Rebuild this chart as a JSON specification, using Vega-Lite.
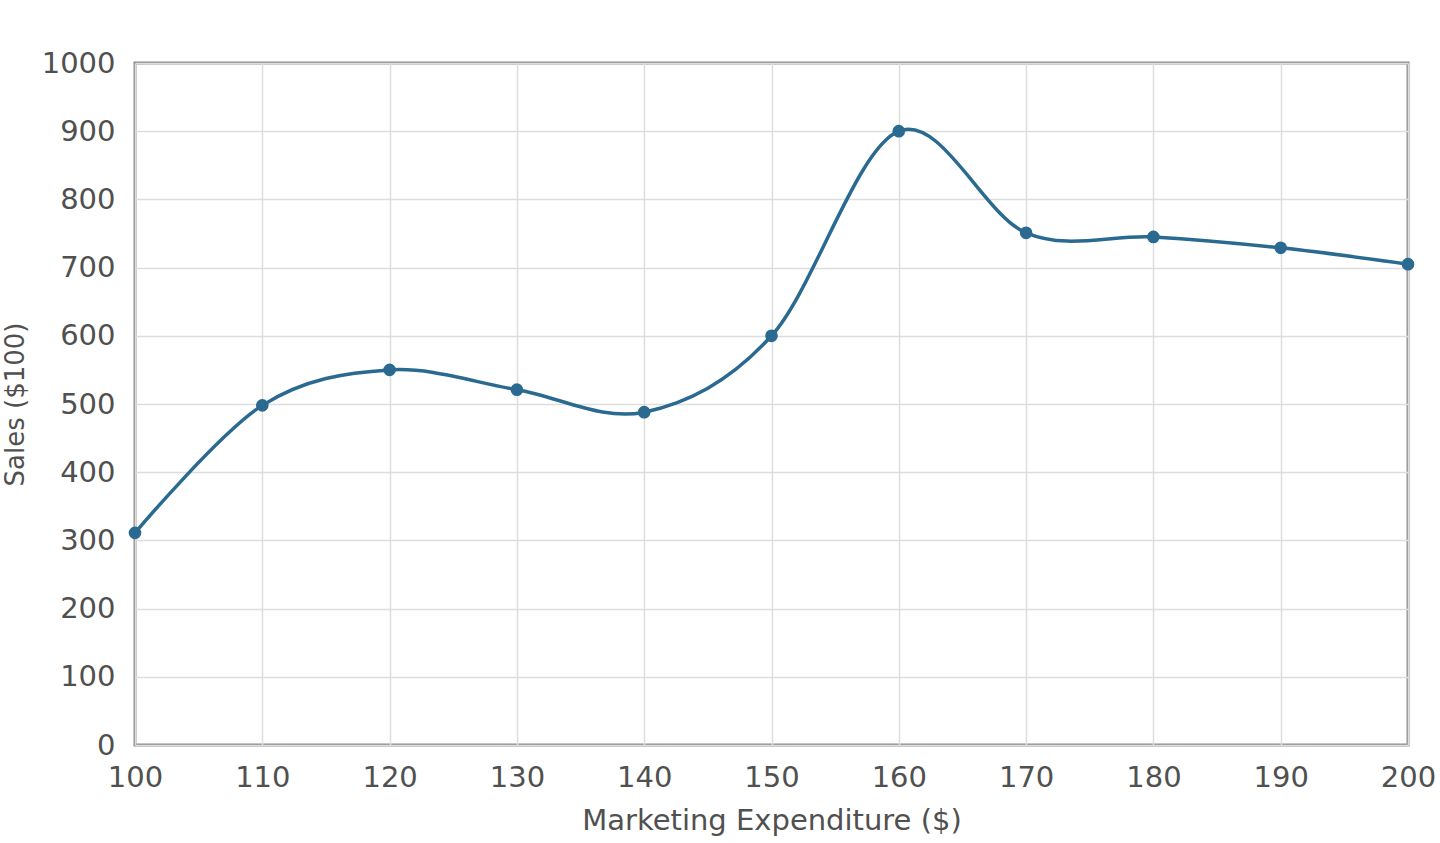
{
  "$schema": "https://vega.github.io/schema/vega-lite/v6.json",
  "width": 1273,
  "height": 682,
  "autosize": "none",
  "padding": {"left": 135, "top": 63, "right": 32, "bottom": 98},
  "background": "white",
  "config": {
    "view": {"stroke": "#8a8a8a", "strokeWidth": 3},
    "axis": {
      "labelFont": "DejaVu Sans",
      "titleFont": "DejaVu Sans",
      "labelColor": "#505050",
      "titleColor": "#505050",
      "labelFontSize": 29,
      "titleFontSize": 29,
      "titleFontWeight": "normal",
      "gridColor": "#dddddd",
      "gridWidth": 1.5,
      "domain": false,
      "ticks": false,
      "labelPadding": 18
    }
  },
  "data": {
    "values": [
      {"x": 100, "y": 311},
      {"x": 110, "y": 498},
      {"x": 120, "y": 550},
      {"x": 130, "y": 521},
      {"x": 140, "y": 488},
      {"x": 150, "y": 600},
      {"x": 160, "y": 900},
      {"x": 170, "y": 751},
      {"x": 180, "y": 745},
      {"x": 190, "y": 729},
      {"x": 200, "y": 705}
    ]
  },
  "encoding": {
    "x": {
      "field": "x", "type": "quantitative",
      "scale": {"domain": [100, 200], "nice": false, "zero": false},
      "axis": {"values": [100,110,120,130,140,150,160,170,180,190,200], "title": "Marketing Expenditure ($)", "titlePadding": 14, "labelFlush": false, "labelOverlap": false, "labelPadding": 18}
    },
    "y": {
      "field": "y", "type": "quantitative",
      "scale": {"domain": [0, 1000], "nice": false},
      "axis": {"values": [0,100,200,300,400,500,600,700,800,900,1000], "format": "d", "title": "Sales ($100)", "titleFontSize": 26, "titleX": -107, "titleY": 341, "labelFlush": false, "labelPadding": 20}
    }
  },
  "layer": [
    {"mark": {"type": "line", "interpolate": "cardinal", "color": "#2b6a90", "strokeWidth": 3.5}},
    {"mark": {"type": "point", "filled": true, "opacity": 1, "color": "#2b6a90", "size": 160}}
  ]
}
